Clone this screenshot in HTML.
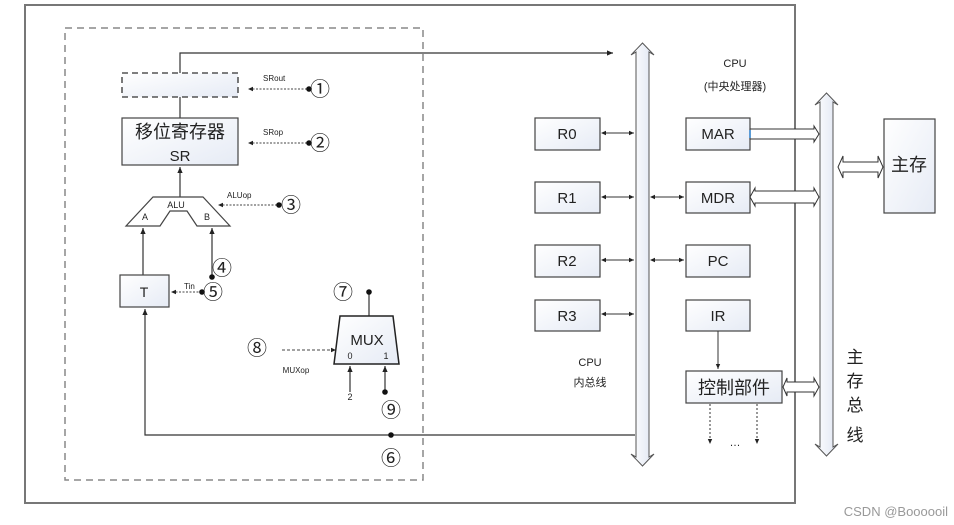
<!DOCTYPE html>
<html><head><meta charset="utf-8"><style>
html,body{margin:0;padding:0;background:#fff;width:954px;height:525px;overflow:hidden}
text{font-family:"Liberation Sans","Noto Sans CJK SC",sans-serif;fill:#222}
</style></head><body>
<svg width="954" height="525" viewBox="0 0 954 525" xmlns="http://www.w3.org/2000/svg">
<defs>
<linearGradient id="g" x1="0" y1="0" x2="1" y2="1"><stop offset="0" stop-color="#fff"/><stop offset="1" stop-color="#e6ebf5"/></linearGradient>
<linearGradient id="gb" x1="0" y1="0" x2="1" y2="0"><stop offset="0" stop-color="#fff"/><stop offset="1" stop-color="#dfe5f2"/></linearGradient>
<marker id="a" markerWidth="6" markerHeight="6" refX="5" refY="3" orient="auto"><path d="M0,0.8 L5,3 L0,5.2z" fill="#222"/></marker>
<marker id="as" markerWidth="6" markerHeight="6" refX="1" refY="3" orient="auto"><path d="M5,0.8 L0,3 L5,5.2z" fill="#222"/></marker>
</defs>
<rect x="25" y="5" width="770" height="498" fill="none" stroke="#777" stroke-width="2"/>
<rect x="65" y="28" width="358" height="452" fill="none" stroke="#888" stroke-width="1.5" stroke-dasharray="7,5"/>
<g stroke="#333" stroke-width="1.2" fill="none">
<path d="M180,73 V53 H613" marker-end="url(#a)"/>
<line x1="180" y1="97" x2="180" y2="118"/>
<line x1="180" y1="197" x2="180" y2="167" marker-end="url(#a)"/>
<line x1="143" y1="275" x2="143" y2="228" marker-end="url(#a)"/>
<line x1="212" y1="277" x2="212" y2="228" marker-end="url(#a)"/>
<path d="M635,435 H145 V309" marker-end="url(#a)"/>
<line x1="369" y1="292" x2="369" y2="316"/>
<line x1="350" y1="392" x2="350" y2="366" marker-end="url(#a)"/>
<line x1="385" y1="392" x2="385" y2="366" marker-end="url(#a)"/>
</g>
<g stroke="#444" stroke-width="1" stroke-dasharray="2,1.5" fill="none">
<line x1="307" y1="89" x2="248" y2="89" marker-end="url(#a)"/>
<line x1="307" y1="143" x2="248" y2="143" marker-end="url(#a)"/>
<line x1="277" y1="205" x2="218" y2="205" marker-end="url(#a)"/>
<line x1="202" y1="292" x2="171" y2="292" marker-end="url(#a)"/>
<line x1="282" y1="350" x2="336" y2="350" stroke-dasharray="3,2" marker-end="url(#a)"/>
</g>
<rect x="122" y="73" width="116" height="24" fill="url(#g)" stroke="#333" stroke-width="1.3" stroke-dasharray="6,4"/>
<rect x="122" y="118" width="116" height="47" fill="url(#g)" stroke="#444" stroke-width="1.2"/>
<text x="180" y="138" font-size="18" text-anchor="middle">移位寄存器</text>
<text x="180" y="161" font-size="15" text-anchor="middle">SR</text>
<path d="M153,197 H203 L230,226 H197 L187,211 H170 L160,226 H126 Z" fill="#fff" stroke="#444" stroke-width="1.2"/>
<text x="176" y="208" font-size="9" text-anchor="middle">ALU</text>
<text x="145" y="220" font-size="9" text-anchor="middle">A</text>
<text x="207" y="220" font-size="9" text-anchor="middle">B</text>
<rect x="120" y="275" width="49" height="32" fill="url(#g)" stroke="#444" stroke-width="1.2"/>
<text x="144" y="297" font-size="14" text-anchor="middle">T</text>
<path d="M340,316 H393 L399,364 H334 Z" fill="url(#g)" stroke="#222" stroke-width="1.5"/>
<text x="367" y="345" font-size="15" text-anchor="middle">MUX</text>
<text x="350" y="359" font-size="9" text-anchor="middle">0</text>
<text x="386" y="359" font-size="9" text-anchor="middle">1</text>
<text x="350" y="400" font-size="9" text-anchor="middle">2</text>
<text x="296" y="373" font-size="8" text-anchor="middle" fill="#555">MUXop</text>
<g font-size="8" fill="#333"><text x="263" y="81">SRout</text><text x="263" y="135">SRop</text><text x="227" y="198">ALUop</text><text x="184" y="289">Tin</text></g>
<g fill="#111">
<circle cx="309" cy="89" r="2.8"/><circle cx="309" cy="143" r="2.8"/><circle cx="279" cy="205" r="2.8"/>
<circle cx="212" cy="277" r="2.8"/><circle cx="202" cy="292" r="2.8"/><circle cx="369" cy="292" r="2.8"/>
<circle cx="385" cy="392" r="2.8"/><circle cx="391" cy="435" r="2.8"/>
</g>
<g font-size="20" text-anchor="middle" fill="#222">
<text x="320" y="96">①</text><text x="320" y="150">②</text><text x="291" y="212">③</text>
<text x="222" y="275">④</text><text x="213" y="299">⑤</text><text x="343" y="299">⑦</text>
<text x="257" y="355">⑧</text><text x="391" y="417">⑨</text><text x="391" y="465">⑥</text>
</g>
<path d="M636,52 L631,55 L642.5,43 L654,55 L649,52 L649,457 L654,454 L642.5,466 L631,454 L636,457 Z" fill="url(#gb)" stroke="#555" stroke-width="1"/>
<path d="M820,102 L815,105 L826.5,93 L838,105 L833,102 L833,447 L838,444 L826.5,456 L815,444 L820,447 Z" fill="url(#gb)" stroke="#555" stroke-width="1"/>
<g fill="url(#g)" stroke="#444" stroke-width="1.2">
<rect x="535" y="118" width="65" height="32"/><rect x="535" y="182" width="65" height="31"/>
<rect x="535" y="245" width="65" height="32"/><rect x="535" y="300" width="65" height="31"/>
<rect x="686" y="118" width="64" height="32"/><rect x="686" y="182" width="64" height="31"/>
<rect x="686" y="245" width="64" height="32"/><rect x="686" y="300" width="64" height="31"/>
<rect x="686" y="371" width="96" height="32"/><rect x="884" y="119" width="51" height="94"/>
</g>
<g font-size="15" text-anchor="middle">
<text x="567" y="139">R0</text><text x="567" y="203">R1</text><text x="567" y="266">R2</text><text x="567" y="321">R3</text>
<text x="718" y="139">MAR</text><text x="718" y="203">MDR</text><text x="718" y="266">PC</text><text x="718" y="321">IR</text>
<text x="734" y="394" font-size="18">控制部件</text><text x="909" y="171" font-size="18">主存</text>
<text x="735" y="67" font-size="11">CPU</text><text x="735" y="90" font-size="11">(中央处理器)</text>
<text x="590" y="366" font-size="11">CPU</text><text x="590" y="386" font-size="11">内总线</text>
</g>
<g font-size="17" text-anchor="middle"><text x="855" y="363">主</text><text x="855" y="387">存</text><text x="855" y="411">总</text><text x="855" y="441">线</text></g>
<g stroke="#333" stroke-width="1" fill="none">
<line x1="602" y1="133" x2="634" y2="133" marker-start="url(#as)" marker-end="url(#a)"/>
<line x1="602" y1="197" x2="634" y2="197" marker-start="url(#as)" marker-end="url(#a)"/>
<line x1="602" y1="260" x2="634" y2="260" marker-start="url(#as)" marker-end="url(#a)"/>
<line x1="602" y1="314" x2="634" y2="314" marker-start="url(#as)" marker-end="url(#a)"/>
<line x1="651" y1="197" x2="684" y2="197" marker-start="url(#as)" marker-end="url(#a)"/>
<line x1="651" y1="260" x2="684" y2="260" marker-start="url(#as)" marker-end="url(#a)"/>
<line x1="718" y1="331" x2="718" y2="369" marker-end="url(#a)"/>
<line x1="710" y1="404" x2="710" y2="444" stroke-dasharray="2,2" marker-end="url(#a)"/>
<line x1="757" y1="404" x2="757" y2="444" stroke-dasharray="2,2" marker-end="url(#a)"/>
</g>
<text x="735" y="446" font-size="11" text-anchor="middle">…</text>
<g fill="#fff" stroke="#333" stroke-width="1">
<path d="M750,129 H814 V126 L819,134 L814,142 V139 H750 Z"/>
<path d="M755,191 H814 V188 L819,197 L814,206 V203 H755 V206 L750,197 L755,188 Z"/>
<path d="M787,382 H814 V378 L819,387 L814,396 V392 H787 V396 L783,387 L787,378 Z"/>
<path d="M843,162 H878 V156 L883,167 L878,178 V172 H843 V178 L838,167 L843,156 Z"/>
</g>
<rect x="749" y="130" width="2" height="8" fill="#5b9bd5"/>
<text x="948" y="516" font-size="13" text-anchor="end" style="fill:#999">CSDN @Boooooil</text>
</svg>
</body></html>
